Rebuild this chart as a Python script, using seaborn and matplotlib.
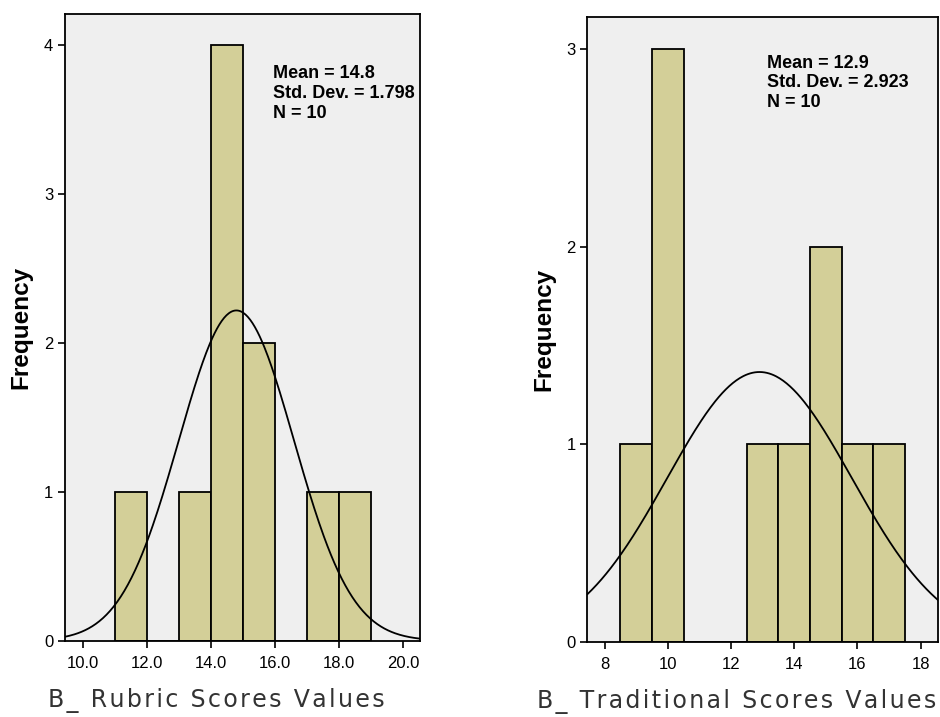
import numpy as np
import pandas as pd
import seaborn as sns
import matplotlib.pyplot as plt

# Histogram bins (centres) and frequencies
rubric_centers = [11.5, 13.5, 14.5, 15.5, 17.5, 18.5]
rubric_counts = [1, 1, 4, 2, 1, 1]
rubric_mean, rubric_sd, rubric_n = 14.8, 1.798, 10

trad_centers = [9.0, 10.0, 13.0, 14.0, 15.0, 16.0, 17.0]
trad_counts = [1, 3, 1, 1, 2, 1, 1]
trad_mean, trad_sd, trad_n = 12.9, 2.923, 10

rubric_ticks = [10, 12, 14, 16, 18, 20]
rubric_ticklabels = ["10.0", "12.0", "14.0", "16.0", "18.0", "20.0"]
trad_ticks = [8, 10, 12, 14, 16, 18]
trad_ticklabels = ["8", "10", "12", "14", "16", "18"]

sns.set_style("white")
plt.rcParams['font.family'] = ['Liberation Sans', 'DejaVu Sans']

bar_color = '#d3cf98'
bg_color = '#efefef'

fig = plt.figure(figsize=(9.4, 7.17), dpi=100)
ax1 = fig.add_axes([0.0691, 0.1064, 0.3777, 0.874])
ax2 = fig.add_axes([0.6248, 0.1050, 0.3731, 0.8709])


def spaced(s):
    # SPSS style letter spacing for the axis titles
    return '\u200a'.join(s)


def draw_panel(ax, centers, counts, mean, sd, n, xlim, ylim, yticks,
               xticks, xticklabels, xlabel, text_x, text_y, label_x):
    ax.set_facecolor(bg_color)
    df = pd.DataFrame({"score": centers, "freq": counts})
    edges = list(np.arange(min(centers) - 0.5, max(centers) + 1.0, 1.0))
    sns.histplot(data=df, x="score", weights="freq", bins=edges, ax=ax,
                 color=bar_color, edgecolor='black', linewidth=1.3, alpha=1)
    # normal curve scaled to counts (bin width 1)
    xs = np.linspace(xlim[0], xlim[1], 300)
    ys = n * 1.0 / (sd * np.sqrt(2 * np.pi)) * np.exp(-0.5 * ((xs - mean) / sd) ** 2)
    sns.lineplot(x=xs, y=ys, ax=ax, color='black', linewidth=1.3)
    ax.set_xlim(*xlim)
    ax.set_ylim(*ylim)
    ax.set_yticks(yticks)
    ax.set_xticks(xticks)
    ax.set_xticklabels(xticklabels)
    ax.tick_params(axis='both', direction='out', length=5, width=1.2,
                   labelsize=12, colors='black', bottom=True, left=True)
    ax.tick_params(axis='x', pad=6)
    for s in ax.spines.values():
        s.set_color('black')
        s.set_linewidth(1.3)
    ax.set_ylabel('Frequency', fontsize=17.5, fontweight='bold', color='black')
    ax.yaxis.set_label_coords(-0.092, 0.5)
    ax.set_xlabel(spaced(xlabel), fontsize=17, color='#333333',
                  family='DejaVu Sans')
    ax.xaxis.set_label_coords(label_x, -0.075)
    ax.xaxis.label.set_horizontalalignment('left')
    ax.text(text_x, text_y,
            f"Mean = {mean}\nStd. Dev. = {sd:.3f}\nN = {n}",
            transform=ax.transAxes, ha='left', va='top', color='black',
            fontsize=13, fontweight='bold', linespacing=1.2)


draw_panel(ax1, rubric_centers, rubric_counts, rubric_mean, rubric_sd, rubric_n,
           (9.45, 20.53), (0, 4.21), [0, 1, 2, 3, 4],
           rubric_ticks, rubric_ticklabels, 'B_ Rubric Scores Values',
           0.586, 0.918, -0.048)
draw_panel(ax2, trad_centers, trad_counts, trad_mean, trad_sd, trad_n,
           (7.45, 18.55), (0, 3.16), [0, 1, 2, 3],
           trad_ticks, trad_ticklabels, 'B_ Traditional Scores Values',
           0.513, 0.94, -0.144)

fig.savefig("out.png", dpi=100)
